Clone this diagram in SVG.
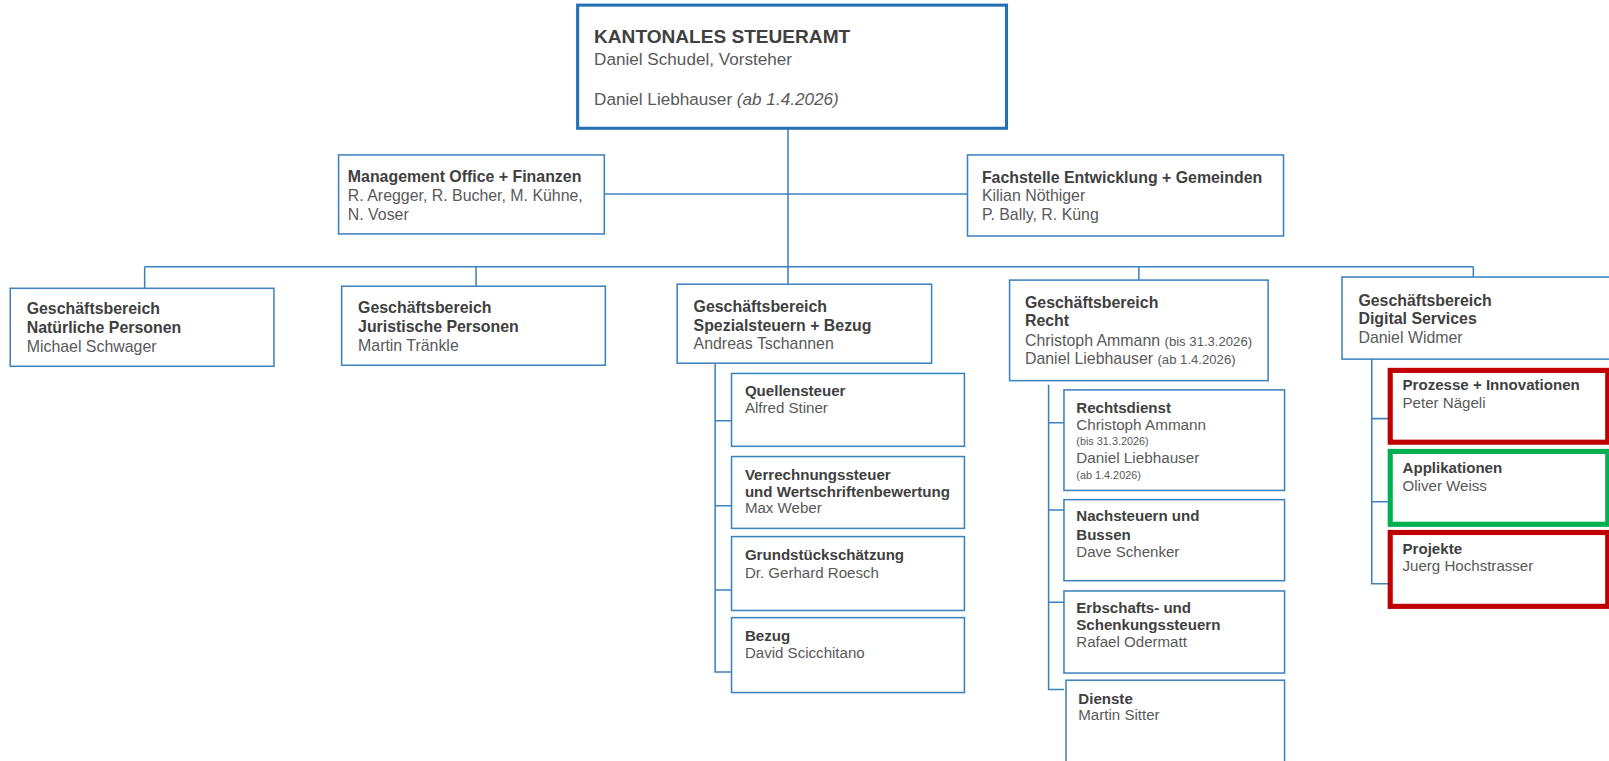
<svg xmlns="http://www.w3.org/2000/svg" width="1609" height="761" viewBox="0 0 1609 761">
<style>
text{font-family:"Liberation Sans",Arial,sans-serif;fill:#595959}
.t{font-weight:bold;fill:#404040;font-size:15.5px}
.n{font-size:15.5px}
.st{font-weight:bold;fill:#404040;font-size:14.7px}
.sn{font-size:14.7px}
.sm{font-size:12.8px}
.xs{font-size:10.6px}
.box{fill:#fff;stroke:#3e82bd;stroke-width:1.5}
.main{fill:#fff;stroke:#2470b3;stroke-width:3}
.red{fill:#fff;stroke:#c00000;stroke-width:5}
.green{fill:#fff;stroke:#00b050;stroke-width:5}
.c{fill:none;stroke:#3e82bd;stroke-width:1.5}
</style>
<rect width="1609" height="761" fill="#fff"/>
<g transform="scale(1.026)">
<g id="connectors">
<path class="c" d="M768 125V260M589 189H943M141 260H1436M141 260V281M464 260V279M768 260V277M1110 260V273M1436 260V270"/>
<path class="c" d="M697 354V655H713M697 410H713M697 493H713M697 575H713"/>
<path class="c" d="M1022 375V672H1037M1022 412H1037M1022 497H1037M1022 587H1037"/>
<path class="c" d="M1337 350V569H1354M1337 408H1354M1337 489H1354"/>
</g>
<g id="kantonales-steueramt">
<rect class="main" x="563" y="5" width="418" height="120"/>
<text x="579" y="42" font-size="18.6" font-weight="bold" style="fill:#404040">KANTONALES STEUERAMT</text>
<text x="579" y="63" font-size="16.7">Daniel Schudel, Vorsteher</text>
<text x="579" y="102" font-size="16.7">Daniel Liebhauser <tspan font-style="italic">(ab 1.4.2026)</tspan></text>
</g>
<g id="management-office">
<rect class="box" x="330" y="151" width="259" height="77"/>
<text class="t" x="339" y="177">Management Office + Finanzen</text>
<text class="n" x="339" y="196">R. Aregger, R. Bucher, M. Kühne,</text>
<text class="n" x="339" y="214">N. Voser</text>
</g>
<g id="fachstelle">
<rect class="box" x="943" y="151" width="308" height="79"/>
<text class="t" x="957" y="178">Fachstelle Entwicklung + Gemeinden</text>
<text class="n" x="957" y="196">Kilian Nöthiger</text>
<text class="n" x="957" y="214">P. Bally, R. Küng</text>
</g>
<g id="gb-natuerliche">
<rect class="box" x="10" y="281" width="257" height="76"/>
<text class="t" x="26" y="306">Geschäftsbereich</text>
<text class="t" x="26" y="325">Natürliche Personen</text>
<text class="n" x="26" y="343">Michael Schwager</text>
</g>
<g id="gb-juristische">
<rect class="box" x="333" y="279" width="257" height="77"/>
<text class="t" x="349" y="305">Geschäftsbereich</text>
<text class="t" x="349" y="324">Juristische Personen</text>
<text class="n" x="349" y="342">Martin Tränkle</text>
</g>
<g id="gb-spezial">
<rect class="box" x="660" y="277" width="248" height="77"/>
<text class="t" x="676" y="304">Geschäftsbereich</text>
<text class="t" x="676" y="323">Spezialsteuern + Bezug</text>
<text class="n" x="676" y="340">Andreas Tschannen</text>
</g>
<g id="quellensteuer">
<rect class="box" x="713" y="364" width="227" height="71"/>
<text class="st" x="726" y="386">Quellensteuer</text>
<text class="sn" x="726" y="403">Alfred Stiner</text>
</g>
<g id="verrechnungssteuer">
<rect class="box" x="713" y="445" width="227" height="70"/>
<text class="st" x="726" y="468">Verrechnungssteuer</text>
<text class="st" x="726" y="484">und Wertschriftenbewertung</text>
<text class="sn" x="726" y="500">Max Weber</text>
</g>
<g id="grundstueck">
<rect class="box" x="713" y="523" width="227" height="72"/>
<text class="st" x="726" y="546">Grundstückschätzung</text>
<text class="sn" x="726" y="563">Dr. Gerhard Roesch</text>
</g>
<g id="bezug">
<rect class="box" x="713" y="602" width="227" height="73"/>
<text class="st" x="726" y="625">Bezug</text>
<text class="sn" x="726" y="641">David Scicchitano</text>
</g>
<g id="gb-recht">
<rect class="box" x="984" y="273" width="252" height="98"/>
<text class="t" x="999" y="300">Geschäftsbereich</text>
<text class="t" x="999" y="318">Recht</text>
<text class="n" x="999" y="337">Christoph Ammann <tspan class="sm">(bis 31.3.2026)</tspan></text>
<text class="n" x="999" y="355">Daniel Liebhauser <tspan class="sm">(ab 1.4.2026)</tspan></text>
</g>
<g id="rechtsdienst">
<rect class="box" x="1037" y="380" width="215" height="98"/>
<text class="st" x="1049" y="403">Rechtsdienst</text>
<text class="sn" x="1049" y="419" style="font-size:14.9px">Christoph Ammann</text>
<text class="xs" x="1049" y="434">(bis 31.3.2026)</text>
<text class="sn" x="1049" y="451" style="font-size:14.9px">Daniel Liebhauser</text>
<text class="xs" x="1049" y="467">(ab 1.4.2026)</text>
</g>
<g id="nachsteuern">
<rect class="box" x="1037" y="487" width="215" height="79"/>
<text class="st" x="1049" y="508">Nachsteuern und</text>
<text class="st" x="1049" y="526">Bussen</text>
<text class="sn" x="1049" y="543">Dave Schenker</text>
</g>
<g id="erbschafts">
<rect class="box" x="1037" y="576" width="215" height="80"/>
<text class="st" x="1049" y="597">Erbschafts- und</text>
<text class="st" x="1049" y="614">Schenkungssteuern</text>
<text class="sn" x="1049" y="631">Rafael Odermatt</text>
</g>
<g id="dienste">
<rect class="box" x="1039" y="663" width="213" height="110"/>
<text class="st" x="1051" y="686">Dienste</text>
<text class="sn" x="1051" y="702">Martin Sitter</text>
</g>
<g id="gb-digital">
<rect class="box" x="1308" y="270" width="285" height="80"/>
<text class="t" x="1324" y="298">Geschäftsbereich</text>
<text class="t" x="1324" y="316">Digital Services</text>
<text class="n" x="1324" y="334">Daniel Widmer</text>
</g>
<g id="prozesse">
<rect class="red" x="1355" y="361" width="212" height="70"/>
<text class="st" x="1367" y="380">Prozesse + Innovationen</text>
<text class="sn" x="1367" y="398">Peter Nägeli</text>
</g>
<g id="applikationen">
<rect class="green" x="1355" y="440" width="212" height="71"/>
<text class="st" x="1367" y="461">Applikationen</text>
<text class="sn" x="1367" y="479">Oliver Weiss</text>
</g>
<g id="projekte">
<rect class="red" x="1355" y="519" width="212" height="72"/>
<text class="st" x="1367" y="540">Projekte</text>
<text class="sn" x="1367" y="557">Juerg Hochstrasser</text>
</g>
</g>
</svg>
